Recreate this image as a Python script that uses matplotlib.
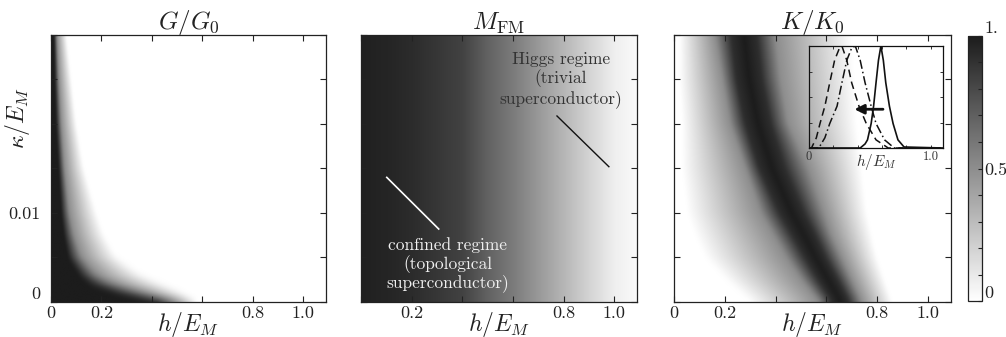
import numpy as np
import matplotlib.pyplot as plt
from matplotlib.colors import LinearSegmentedColormap
from matplotlib.cm import ScalarMappable

plt.rcParams['font.family'] = 'cmr10'
plt.rcParams['mathtext.fontset'] = 'cm'
plt.rcParams['axes.formatter.use_mathtext'] = True

# G/G0 : edge of the dark corner for each kappa row (h where G ~1, 0.5, 0)
kappa_g = np.array([0, 0.0005, 0.001, 0.002, 0.003, 0.005, 0.0075, 0.01, 0.015, 0.02, 0.025, 0.03])
g_dark = np.array([0.42, 0.33, 0.25, 0.15, 0.11, 0.066, 0.05, 0.04, 0.03, 0.02, 0.015, 0.012])
g_half = np.array([0.50, 0.43, 0.37, 0.25, 0.18, 0.12, 0.09, 0.072, 0.053, 0.04, 0.03, 0.022])
g_white = np.array([0.58, 0.55, 0.52, 0.44, 0.36, 0.26, 0.21, 0.18, 0.13, 0.10, 0.08, 0.06])

# M_FM : gray level along h (no kappa dependence)
h_m = np.array([0, 0.1, 0.2, 0.3, 0.4, 0.5, 0.6, 0.7, 0.8, 0.9, 1.0, 1.1])
m_vals = np.array([0.98, 0.96, 0.93, 0.88, 0.83, 0.69, 0.58, 0.45, 0.32, 0.19, 0.07, 0.02])

# K/K0 : ridge centre, core half width, half-max and zero points on both sides
kappa_k = np.array([0, 0.0025, 0.005, 0.0075, 0.01, 0.015, 0.02, 0.025, 0.03])
k_c = np.array([0.655, 0.605, 0.555, 0.51, 0.462, 0.385, 0.33, 0.295, 0.275])
k_cw = np.array([0.033, 0.038, 0.04, 0.045, 0.048, 0.05, 0.05, 0.05, 0.05])
k_lz = np.array([0.30, 0.20, 0.12, 0.08, 0.05, 0.03, 0.03, 0.02, 0.02])
k_lh = np.array([0.57, 0.50, 0.44, 0.39, 0.34, 0.28, 0.22, 0.19, 0.16])
k_rh = np.array([0.74, 0.70, 0.66, 0.62, 0.59, 0.53, 0.45, 0.42, 0.40])
k_rz = np.array([0.86, 0.83, 0.80, 0.78, 0.76, 0.74, 0.72, 0.71, 0.70])

# inset cuts
h_dash = [0, 0.02, 0.06, 0.09, 0.13, 0.17, 0.21, 0.25, 0.27, 0.31, 0.35, 0.41, 0.47, 0.55, 0.65, 1.1]
y_dash = [0, 0, 0.1, 0.24, 0.41, 0.64, 0.86, 0.98, 1.0, 0.86, 0.64, 0.41, 0.24, 0.08, 0.0, 0]
h_dd = [0, 0.08, 0.13, 0.17, 0.23, 0.27, 0.31, 0.35, 0.38, 0.42, 0.46, 0.51, 0.55, 0.62, 0.70, 1.1]
y_dd = [0, 0, 0.1, 0.24, 0.41, 0.64, 0.86, 0.98, 1.0, 0.86, 0.64, 0.41, 0.24, 0.08, 0, 0]
h_sol = [0, 0.42, 0.46, 0.48, 0.51, 0.53, 0.55, 0.57, 0.59, 0.61, 0.63, 0.66, 0.69, 0.73, 0.78, 1.1]
y_sol = [0, 0, 0.04, 0.08, 0.24, 0.41, 0.64, 0.86, 1.0, 0.86, 0.64, 0.41, 0.24, 0.08, 0.01, 0]

h_ticks = [0, 0.2, 0.4, 0.6, 0.8, 1.0]
cmap = LinearSegmentedColormap.from_list('bw', ['white', '#1c1c1c'])

# render grid for the maps
hf = np.linspace(0, 1.1, 900)
kf = np.linspace(0, 0.03, 300)


def soften(img, s=3):
    # small gaussian blur along h, removes kinks of the piecewise profiles
    x = np.arange(-3 * s, 3 * s + 1)
    ker = np.exp(-0.5 * (x / s) ** 2)
    ker /= ker.sum()
    pad = np.pad(img, ((0, 0), (3 * s, 3 * s)), mode='edge')
    return np.array([np.convolve(r, ker, mode='valid') for r in pad])


def field(kappa, nodes, vals):
    rows = []
    for k in kf:
        xs = [np.interp(k, kappa, a) if not np.isscalar(a) else a for a in nodes]
        rows.append(np.interp(hf, xs, vals))
    img = soften(np.array(rows))
    return soften(img.T, 4).T


fig = plt.figure(figsize=(10.06, 3.37), dpi=100)
ax1 = fig.add_axes([0.0507, 0.1039, 0.2734, 0.7923])
ax2 = fig.add_axes([0.3588, 0.1039, 0.2744, 0.7923])
ax3 = fig.add_axes([0.6700, 0.1039, 0.2753, 0.7923])
cax = fig.add_axes([0.9622, 0.1068, 0.0139, 0.7864])


def style(ax, xlabels, title):
    ax.set_xlim(0, 1.09)
    ax.set_ylim(0, 0.03)
    ax.set_xticks(h_ticks)
    ax.set_xticklabels(xlabels)
    ax.set_yticks(np.arange(0, 0.0301, 0.005))
    ax.set_yticklabels([])
    ax.tick_params(direction='in', top=True, right=True, length=4, width=0.8,
                   labelsize=13, pad=3, colors='#222222')
    for s in ax.spines.values():
        s.set_linewidth(0.9)
        s.set_color('#222222')
    ax.set_xlabel(r'$h/E_M$', fontsize=17, color='#222222')
    ax.xaxis.set_label_coords(0.5, -0.03)
    ax.set_title(title, fontsize=18, pad=4, color='#222222')


def show(ax, img):
    ax.imshow(img, extent=[0, 1.1, 0, 0.03], origin='lower', aspect='auto',
              cmap=cmap, vmin=0, vmax=1, interpolation='bilinear')


# panel 1
G = field(kappa_g, [0, g_dark, g_half, g_white, 1.1], [1, 1, 0.5, 0, 0])
show(ax1, G)
style(ax1, ['0', '0.2', '', '', '0.8', '1.0'], r'$G/G_0$')
ax1.set_yticklabels(['0', '', '0.01', '', '', '', ''])
ax1.tick_params(axis='y', pad=8)
ax1.get_yticklabels()[0].set_va('bottom')
ax1.set_ylabel(r'$\kappa/E_M$', fontsize=17, color='#222222')
ax1.yaxis.set_label_coords(-0.07, 0.69)

# panel 2
M = np.tile(np.interp(hf, h_m, m_vals), (2, 1))
show(ax2, M)
style(ax2, ['', '0.2', '', '', '0.8', '1.0'], r'$M_{\rm FM}$')
ax2.plot([0.774, 0.979], [0.0209, 0.0152], color='#111111', lw=1)
ax2.plot([0.102, 0.307], [0.0140, 0.0082], color='white', lw=1.2)
ax2.text(0.79, 0.0250, 'Higgs regime\n(trivial\nsuperconductor)', ha='center', va='center',
         fontsize=12.5, color='#333333', linespacing=1.2)
ax2.text(0.342, 0.0042, 'confined regime\n(topological\nsuperconductor)', ha='center', va='center',
         fontsize=12.5, color='#f0f0f0', linespacing=1.15)

# panel 3
K = field(kappa_k, [0, k_lz, k_lh, k_c - k_cw, k_c, k_c + k_cw, k_rh, k_rz, 1.1],
          [0, 0, 0.5, 0.92, 1.0, 0.92, 0.5, 0, 0])
show(ax3, K)
style(ax3, ['0', '0.2', '', '', '0.8', '1.0'], r'$K/K_0$')

# colorbar
cb = fig.colorbar(ScalarMappable(cmap=cmap), cax=cax)
cb.set_ticks(np.arange(0, 1.01, 0.1))
cb.set_ticklabels(['0', '', '', '', '', '0.5', '', '', '', '', '1.'])
cax.tick_params(direction='in', length=3, width=0.8, labelsize=13, pad=2, colors='#222222')
cb.outline.set_linewidth(0.9)
cb.outline.set_edgecolor('#222222')
labs = cax.get_yticklabels()
labs[0].set_va('bottom')
labs[-1].set_va('bottom')

# inset
ins = fig.add_axes([0.8042, 0.5608, 0.1332, 0.3027])
ins.set_facecolor('none')
ins.plot(h_dash, y_dash, color='#111111', lw=1.1, ls=(0, (5, 3)))
ins.plot(h_dd, y_dd, color='#111111', lw=1.1, ls=(0, (6, 2, 1, 2)))
ins.plot(h_sol, y_sol, color='#111111', lw=1.2)
ins.annotate('', xy=(0.35, 0.38), xytext=(0.63, 0.38),
             arrowprops=dict(arrowstyle='-|>', lw=2, color='#111111', mutation_scale=14))
ins.set_xlim(0, 1.1)
ins.set_ylim(0, 1.0)
ins.set_xticks(h_ticks)
ins.set_xticklabels(['0', '', '', '', '', '1.0'])
ins.set_yticks([0.25, 0.5, 0.75])
ins.set_yticklabels([])
ins.tick_params(direction='in', top=True, right=True, length=2.5, width=0.7,
                labelsize=9, pad=2, colors='#333333')
for s in ins.spines.values():
    s.set_linewidth(0.9)
    s.set_color('#111111')
ins.set_xlabel(r'$h/E_M$', fontsize=11, color='#333333')
ins.xaxis.set_label_coords(0.5, -0.04)

fig.savefig('out.png', dpi=100)
